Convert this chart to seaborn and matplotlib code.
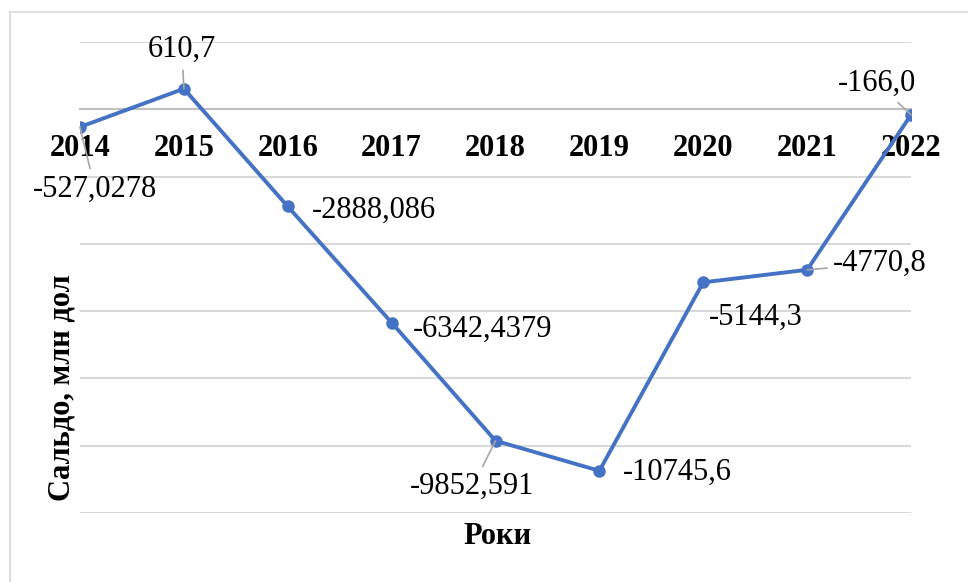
import numpy as np
import pandas as pd
import matplotlib.pyplot as plt
import matplotlib
import seaborn as sns

# data
years = [2014, 2015, 2016, 2017, 2018, 2019, 2020, 2021, 2022]
saldo = [-527.0278, 610.7, -2888.086, -6342.4379, -9852.591, -10745.6, -5144.3, -4770.8, -166.0]
labels = ['-527,0278', '610,7', '-2888,086', '-6342,4379', '-9852,591',
          '-10745,6', '-5144,3', '-4770,8', '-166,0']

# label placement (offset in pixels, alignment, leader line)
offsets = [(15, -62), (-2, 39), (24, -4), (21, -7), (-23, -46),
           (23, -2), (6, -35), (26, 6), (-34, 32)]
aligns = ['center', 'center', 'left', 'left', 'center', 'left', 'left', 'left', 'center']
leaders = [True, True, False, False, True, False, False, True, True]

df = pd.DataFrame({'Рік': years, 'Сальдо': saldo})

sns.set_theme(style='white')
plt.rcParams['font.family'] = ['Liberation Serif', 'DejaVu Serif']

fig = plt.figure(figsize=(9.68, 5.82), dpi=100)
ax = fig.add_axes([80/968, 1 - 513/582, 831/968, 471/582])

# light chart border like excel
fig.patches.append(matplotlib.patches.Rectangle((10/968, -0.1), 1.2, 1 - 12/582 + 0.1,
                   transform=fig.transFigure, fill=False, edgecolor='#d9d9d9', lw=1.2))

sns.lineplot(data=df, x='Рік', y='Сальдо', ax=ax, color='#4472C4', linewidth=2.8,
             marker='o', markersize=9, markeredgewidth=0, zorder=3)

# x axis sits on zero, set it first because it resets the ticks
for s in ['top', 'right', 'left']:
    ax.spines[s].set_visible(False)
ax.spines['bottom'].set_position(('data', 0))
ax.spines['bottom'].set_color('#bfbfbf')
ax.spines['bottom'].set_linewidth(1.5)
ax.spines['bottom'].set_zorder(1)

ax.set_xlim(2014, 2022)
ax.set_ylim(-12000, 2000)
ax.set_yticks(np.arange(-12000, 2001, 2000))
ax.set_yticklabels([])
ax.yaxis.grid(True, color='#d9d9d9', linewidth=1.5, zorder=0)
ax.xaxis.grid(False)
ax.tick_params(axis='x', length=0, pad=18)
ax.tick_params(axis='y', length=0)
ax.set_xticks(years)
ax.set_xticklabels([str(y) for y in years], fontsize=22, fontweight='bold', color='black')

for x, y, t, off, ha, ld in zip(years, saldo, labels, offsets, aligns, leaders):
    ap = dict(arrowstyle='-', color='#a6a6a6', lw=1.2, shrinkA=2, shrinkB=0) if ld else None
    ax.annotate(t, xy=(x, y), xytext=off, textcoords='offset pixels', ha=ha, va='center',
                fontsize=22, color='black', arrowprops=ap, zorder=4)

ax.set_xlabel('Роки', fontsize=22, fontweight='bold', color='black')
ax.xaxis.set_label_coords((497 - 80) / 831, (513 - 537) / 471)
ax.set_ylabel('Сальдо, млн дол', fontsize=22, fontweight='bold', color='black')
ax.yaxis.set_label_coords((62 - 80) / 831, (513 - 388) / 471)
ax.xaxis.label.set_va('center')
ax.yaxis.label.set_va('center')

plt.savefig('out.png', dpi=100)
